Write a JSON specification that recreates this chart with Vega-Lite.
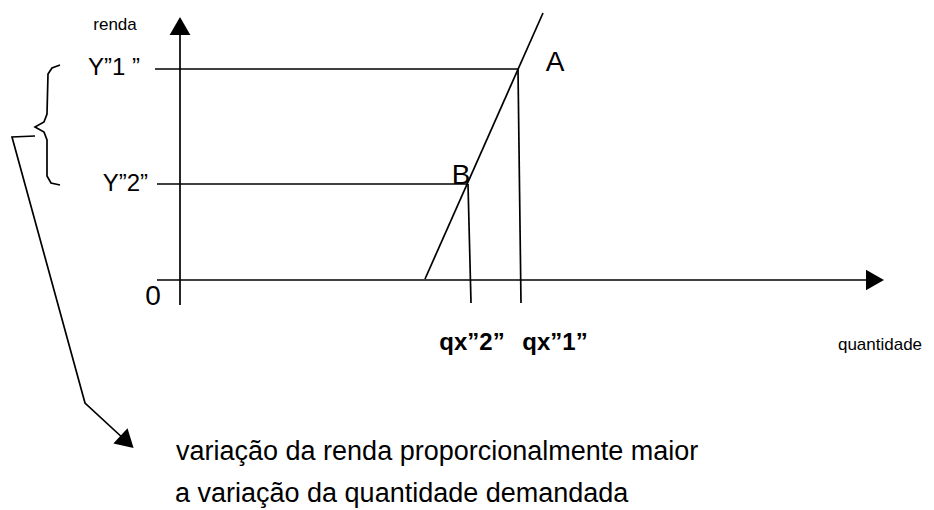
{
  "$schema": "https://vega.github.io/schema/vega-lite/v6.json",
  "width": 934,
  "height": 510,
  "autosize": "none",
  "padding": 0,
  "background": "white",
  "config": {"view": {"stroke": null}, "font": "Liberation Sans"},
  "datasets": {
    "segments": [
      {"seg": "eixo_renda", "ord": 1, "x": 0, "y": -25},
      {"seg": "eixo_renda", "ord": 2, "x": 0, "y": 246},
      {"seg": "eixo_quant", "ord": 1, "x": -23, "y": 0},
      {"seg": "eixo_quant", "ord": 2, "x": 686, "y": 0},
      {"seg": "Y1", "ord": 1, "x": -25, "y": 211},
      {"seg": "Y1", "ord": 2, "x": 338, "y": 211},
      {"seg": "Y2", "ord": 1, "x": -23, "y": 96},
      {"seg": "Y2", "ord": 2, "x": 288, "y": 96},
      {"seg": "curva", "ord": 1, "x": 245, "y": 1},
      {"seg": "curva", "ord": 2, "x": 363, "y": 267},
      {"seg": "qx1", "ord": 1, "x": 338, "y": 211},
      {"seg": "qx1", "ord": 2, "x": 341, "y": -23},
      {"seg": "qx2", "ord": 1, "x": 288, "y": 96},
      {"seg": "qx2", "ord": 2, "x": 291, "y": -23},
      {"seg": "seta", "ord": 1, "x": -145, "y": 144},
      {"seg": "seta", "ord": 2, "x": -168, "y": 143},
      {"seg": "seta", "ord": 3, "x": -95, "y": -123},
      {"seg": "seta", "ord": 4, "x": -55, "y": -160},
      {"seg": "chave", "ord": 1, "x": -120, "y": 215},
      {"seg": "chave", "ord": 2, "x": -128, "y": 212},
      {"seg": "chave", "ord": 3, "x": -132, "y": 206},
      {"seg": "chave", "ord": 4, "x": -133, "y": 166},
      {"seg": "chave", "ord": 5, "x": -136, "y": 158},
      {"seg": "chave", "ord": 6, "x": -145, "y": 153},
      {"seg": "chave", "ord": 7, "x": -136, "y": 148},
      {"seg": "chave", "ord": 8, "x": -133, "y": 140},
      {"seg": "chave", "ord": 9, "x": -133, "y": 104},
      {"seg": "chave", "ord": 10, "x": -129, "y": 97},
      {"seg": "chave", "ord": 11, "x": -120, "y": 95}
    ],
    "heads": [
      {"head": "renda", "x": 0, "y": 254, "dir": 0},
      {"head": "quantidade", "x": 695, "y": 0, "dir": 90},
      {"head": "nota", "x": -53, "y": -162, "dir": 133}
    ],
    "labels": [
      {"kind": "axis", "text": "renda", "x": -65, "y": 255},
      {"kind": "axis", "text": "quantidade", "x": 700, "y": -65},
      {"kind": "ylab", "text": "Y”1 ”", "x": -40, "y": 212},
      {"kind": "ylab", "text": "Y”2”", "x": -32, "y": 96},
      {"kind": "point", "text": "0", "x": -27, "y": -17},
      {"kind": "point", "text": "A", "x": 375, "y": 217},
      {"kind": "point", "text": "B", "x": 281, "y": 104},
      {"kind": "qx", "text": "qx”2”", "x": 292, "y": -63},
      {"kind": "qx", "text": "qx”1”", "x": 375, "y": -63},
      {"kind": "nota", "text": "variação da renda proporcionalmente maior", "x": -4, "y": -180},
      {"kind": "nota", "text": "a variação da quantidade demandada", "x": -5, "y": -222}
    ]
  },
  "layer": [
    {
      "data": {"name": "segments"},
      "mark": {"type": "line", "color": "black", "strokeWidth": 1.7, "clip": false},
      "encoding": {
        "x": {"field": "x", "type": "quantitative", "scale": {"domain": [-180, 754], "nice": false, "zero": false}, "axis": null},
        "y": {"field": "y", "type": "quantitative", "scale": {"domain": [-230, 280], "nice": false, "zero": false}, "axis": null},
        "detail": {"field": "seg"},
        "order": {"field": "ord"}
      }
    },
    {
      "data": {"name": "heads"},
      "mark": {"type": "point", "shape": "triangle-up", "filled": true, "color": "black", "opacity": 1, "size": 430},
      "encoding": {
        "x": {"field": "x", "type": "quantitative", "scale": {"domain": [-180, 754], "nice": false, "zero": false}, "axis": null},
        "y": {"field": "y", "type": "quantitative", "scale": {"domain": [-230, 280], "nice": false, "zero": false}, "axis": null},
        "angle": {"field": "dir", "type": "quantitative", "scale": null}
      }
    },
    {
      "data": {"name": "labels"},
      "transform": [{"filter": "datum.kind === 'axis'"}],
      "mark": {"type": "text", "fontSize": 17, "align": "center", "baseline": "middle", "color": "black"},
      "encoding": {
        "x": {"field": "x", "type": "quantitative", "scale": {"domain": [-180, 754], "nice": false, "zero": false}, "axis": null},
        "y": {"field": "y", "type": "quantitative", "scale": {"domain": [-230, 280], "nice": false, "zero": false}, "axis": null},
        "text": {"field": "text"}
      }
    },
    {
      "data": {"name": "labels"},
      "transform": [{"filter": "datum.kind === 'ylab'"}],
      "mark": {"type": "text", "fontSize": 24, "align": "right", "baseline": "middle", "color": "black"},
      "encoding": {
        "x": {"field": "x", "type": "quantitative", "scale": {"domain": [-180, 754], "nice": false, "zero": false}, "axis": null},
        "y": {"field": "y", "type": "quantitative", "scale": {"domain": [-230, 280], "nice": false, "zero": false}, "axis": null},
        "text": {"field": "text"}
      }
    },
    {
      "data": {"name": "labels"},
      "transform": [{"filter": "datum.kind === 'point'"}],
      "mark": {"type": "text", "fontSize": 28, "align": "center", "baseline": "middle", "color": "black"},
      "encoding": {
        "x": {"field": "x", "type": "quantitative", "scale": {"domain": [-180, 754], "nice": false, "zero": false}, "axis": null},
        "y": {"field": "y", "type": "quantitative", "scale": {"domain": [-230, 280], "nice": false, "zero": false}, "axis": null},
        "text": {"field": "text"}
      }
    },
    {
      "data": {"name": "labels"},
      "transform": [{"filter": "datum.kind === 'qx'"}],
      "mark": {"type": "text", "fontSize": 24, "fontWeight": "bold", "align": "center", "baseline": "middle", "color": "black"},
      "encoding": {
        "x": {"field": "x", "type": "quantitative", "scale": {"domain": [-180, 754], "nice": false, "zero": false}, "axis": null},
        "y": {"field": "y", "type": "quantitative", "scale": {"domain": [-230, 280], "nice": false, "zero": false}, "axis": null},
        "text": {"field": "text"}
      }
    },
    {
      "data": {"name": "labels"},
      "transform": [{"filter": "datum.kind === 'nota'"}],
      "mark": {"type": "text", "fontSize": 27, "align": "left", "baseline": "alphabetic", "color": "black"},
      "encoding": {
        "x": {"field": "x", "type": "quantitative", "scale": {"domain": [-180, 754], "nice": false, "zero": false}, "axis": null},
        "y": {"field": "y", "type": "quantitative", "scale": {"domain": [-230, 280], "nice": false, "zero": false}, "axis": null},
        "text": {"field": "text"}
      }
    }
  ]
}
